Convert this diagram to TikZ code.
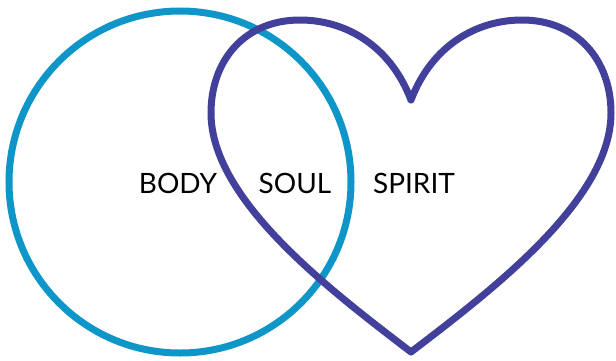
\documentclass[tikz,border=0pt]{standalone}
\usepackage{fontspec}
\setmainfont{Lato}
\definecolor{bodyblue}{HTML}{0E96C8}
\definecolor{heartpurple}{HTML}{42409A}
\begin{document}
\begin{tikzpicture}[x=1pt,y=-1pt,
  ringline/.style={draw=bodyblue,line width=7pt},
  heartline/.style={draw=heartpurple,line width=7pt,line join=round},
  label/.style={font=\fontsize{28}{30}\selectfont,anchor=base,inner sep=0pt}]
\useasboundingbox (0,0) rectangle (616,360);
\draw[ringline] (180,182) circle[radius=171];
\coordinate (N) at (411,100);
\coordinate (T) at (411,352);
\draw[heartline] (N) .. controls (390,45) and (345,20) .. (300,20)
  .. controls (245,20) and (211,60) .. (211,113)
  .. controls (211,200) and (330,290) .. (T)
  .. controls (492,290) and (611,200) .. (611,113)
  .. controls (611,60) and (577,20) .. (522,20)
  .. controls (477,20) and (432,45) .. (N) -- cycle;
\node[label] (body) at (178,193) {BODY};
\node[label] (soul) at (295,193) {SOUL};
\node[label] (spirit) at (414,193) {SPIRIT};
\end{tikzpicture}
\end{document}
